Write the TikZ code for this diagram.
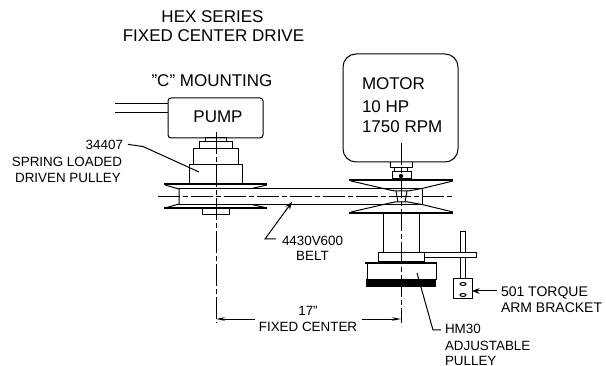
\documentclass[tikz,border=0pt]{standalone}
\usepackage{fontspec}
\setmainfont{Liberation Sans}
\usetikzlibrary{arrows.meta,positioning}

\begin{document}
\begin{tikzpicture}[
    x=1pt, y=-1pt,
    >=Stealth,
    every node/.style={inner sep=0pt, outer sep=0pt},
    part/.style={draw=black, line width=1pt, fill=white},
    housing/.style={part, rounded corners=#1},
    housing/.default=3pt,
    outline/.style={draw=black, line width=1pt},
    flange/.style={draw=black, line width=2.4pt},
    center/.style={draw=black, line width=1pt, dash pattern=on 22pt off 3pt on 5pt off 3pt},
    leader/.style={draw=black, line width=1pt},
    dim/.style={draw=black, line width=0.9pt, -{Stealth[length=9pt,width=3.5pt]}},
    big/.style={font=\fontsize{17}{20}\selectfont, anchor=base},
    lbl/.style={font=\fontsize{13.4}{16}\selectfont, anchor=base},
    lblwide/.style={font=\fontsize{14}{17}\selectfont, anchor=base west},
  ]
    \useasboundingbox (0,0) rectangle (606,366);

    % --- Titles ---
    \node[big] (title1) at (212.5,23) {HEX SERIES};
    \node[big] (title2) at (213.5,42) {FIXED CENTER DRIVE};
    \node[big] (mount)  at (212,87) {"C" MOUNTING};

    % --- Pump ---
    \node[housing, minimum width=95pt, minimum height=40pt] (pump) at (215.5,118) {};
    \node[big] (pumptxt) at (218,123) {PUMP};
    \coordinate (pipeA) at (115,104);
    \coordinate (pipeB) at (115,113);
    \draw[outline] (pipeA) -- (pipeA -| pump.west);
    \draw[outline] (pipeB) -- (pipeB -| pump.west);
    \draw[outline] (205,138) rectangle (226,142);
    \draw[outline] (199,142) rectangle (232,149);
    \draw[outline] (193,149) rectangle (238,165);
    \draw[outline] (189,165) rectangle (242,184);

    % --- Driven pulley ---
    \draw[flange] (164,184) -- (267,184);
    \draw[flange] (164,208) -- (267,208);
    \draw[outline] (165,185) -- (179,189) -- (179,204) -- (165,208);
    \draw[outline] (267,185) -- (252,188.5);
    \draw[outline] (267,208) -- (252,204.5);
    \draw[outline] (202,209) rectangle (229,215);

    % --- Belt ---
    \draw[outline] (179,188.5) -- (390,188.5);
    \draw[outline] (179,204.5) -- (390,204.5);

    % --- Motor ---
    \node[housing=13pt, minimum width=115pt, minimum height=108pt] (motor) at (400.5,108) {};
    \node[big, anchor=base west] (motor1) at (362,90)  {MOTOR};
    \node[big, anchor=base west] (motor2) at (362,113) {10 HP};
    \node[big, anchor=base west] (motor3) at (362,133) {1750 RPM};
    \draw[outline] (390,162) -- (390,168) -- (412,168) -- (412,162);
    \draw[outline] (394,168) rectangle (407,172);
    \draw[outline] (392,172) rectangle (411,179);
    \fill (401,176) circle (2.2pt);

    % --- Adjustable pulley ---
    \draw[flange] (349,180) -- (453,180);
    \draw[flange] (349,213) -- (453,213);
    \draw[outline] (351,181) -- (390,190) -- (395,191) -- (408,191) -- (422,188.5) -- (453,181);
    \draw[outline] (351,212) -- (390,203) -- (395,202) -- (408,202) -- (422,204.5) -- (453,212);
    \draw[outline] (422,188.5) -- (422,204.5);
    \draw[outline] (396,191) -- (398,202);
    \draw[outline] (407,191) -- (405,202);
    \draw[outline] (390,188.5) -- (422,188.5);
    \draw[outline] (390,204.5) -- (422,204.5);

    % --- Sleeve, torque arm, bracket ---
    \draw[outline] (383,214) -- (383,253);
    \draw[outline] (419,214) -- (419,253);
    \draw[outline] (460,232) rectangle (465,280);
    \node[part, minimum width=52pt, minimum height=5pt] (arm) at (450,255.5) {};
    \node[part, minimum width=46pt, minimum height=9pt] (plate) at (401,257.5) {};
    \draw[flange] (365,263) -- (437,263);
    \draw[outline] (367,263) rectangle (436,280);
    \fill (366,279) rectangle (436,287);
    \node[part, minimum width=19pt, minimum height=20pt] (bracket) at (462.5,289) {};
    \draw[outline] (463,284) ellipse (3pt and 1.5pt);
    \draw[outline] (463,295) ellipse (3pt and 1.5pt);

    % --- Center lines ---
    \draw[center] (216,132) -- (216,323);
    \draw[center] (401,143) -- (401,323);
    \draw[center] (158,197) -- (455,197);

    % --- Dimension ---
    \node[lbl] (dim1) at (308,316) {17"};
    \node[lbl] (dim2) at (308,332) {FIXED CENTER};
    \coordinate (dimL) at (216,319);
    \coordinate (dimR) at (401,319);
    \coordinate (dimLs) at (255,319);
    \coordinate (dimRs) at (362,319);
    \draw[dim] (dimLs) -- (dimL);
    \draw[dim] (dimRs) -- (dimR);

    % --- Leaders ---
    \node[lbl, anchor=base east] (spring1) at (123,150) {34407};
    \node[lbl] (spring2) at (67,167) {SPRING LOADED};
    \node[lbl] (spring3) at (68,183) {DRIVEN PULLEY};
    \coordinate (springend) at (199,172);
    \draw[leader] (spring1.east) ++(5,-1) -- (143,146.5) -- (springend);

    \node[lbl, anchor=base west] (belt1) at (282,245.5) {4430V600};
    \node[lbl] (belt2) at (312.5,261) {BELT};
    \coordinate (beltend) at (292,202);
    \draw[leader, ->] (276,239) -- (265,239) -- (beltend);

    \node[lblwide] (torque1) at (501,297) {501 TORQUE};
    \node[lblwide] (torque2) at (501,313) {ARM BRACKET};
    \draw[leader, ->] (497,291) -- (bracket.east |- 0,291);

    \node[lbl, anchor=base west] (adj1) at (445,334) {HM30};
    \node[lbl, anchor=base west] (adj2) at (445,351) {ADJUSTABLE};
    \node[lbl, anchor=base west] (adj3) at (445,365.5) {PULLEY};
    \coordinate (adjend) at (417,273);
    \draw[leader] (441,330) -- (433,330) -- (adjend);
  \end{tikzpicture}
\end{document}
